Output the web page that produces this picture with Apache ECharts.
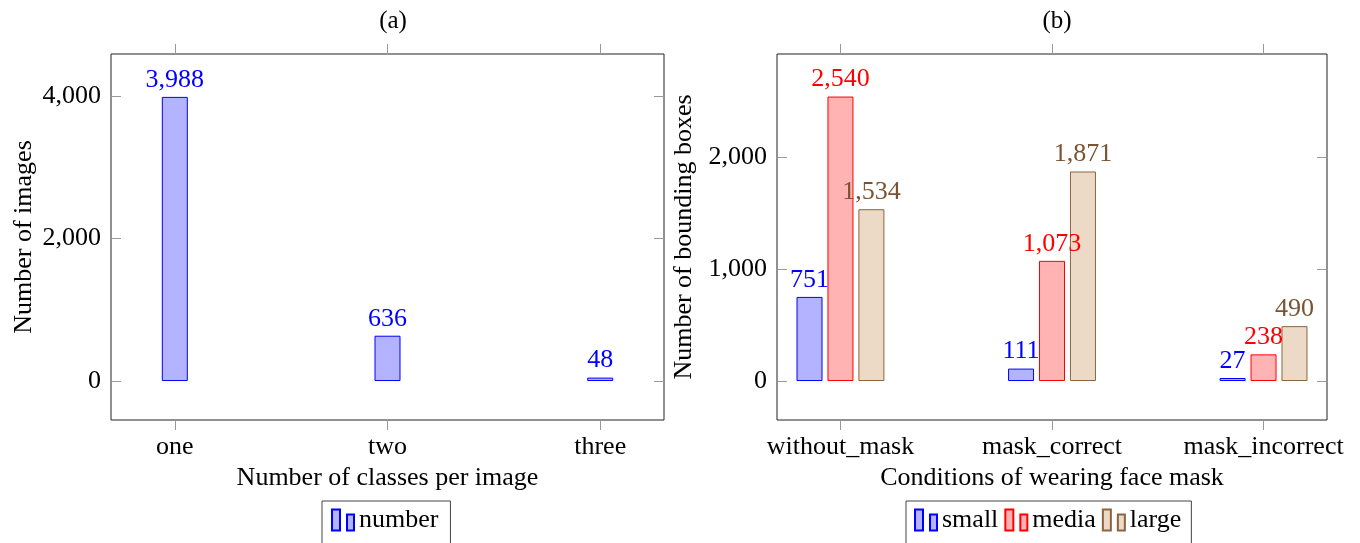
<!DOCTYPE html>
<html>
<head>
<meta charset="utf-8">
<script src="https://cdn.jsdelivr.net/npm/echarts@6/dist/echarts.min.js"></script>
<style>html,body{margin:0;padding:0;background:#fff}#c{width:1360px;height:543px}</style>
</head>
<body>
<div id="c"></div>
<script>
// ---- data ----
var catsA = ['one', 'two', 'three'];
var numberA = [3988, 636, 48];
var catsB = ['without_mask', 'mask_correct', 'mask_incorrect'];
var smallB = [751, 111, 27];
var mediaB = [2540, 1073, 238];
var largeB = [1534, 1871, 490];
var yTicksA = [0, 2000, 4000];
var yTicksB = [0, 1000, 2000];
var xTicks = [0, 1, 2];

var FONT = 'Liberation Serif';
var FS = 26;
var icon = 'path://M0,0H8V21H0Z M15,5H22V21H15Z';
function fmt(v){ return Number(v).toLocaleString('en-US'); }
function pts(arr){ return arr.map(function(v,i){ return [i, v]; }); }

var chart = echarts.init(document.getElementById('c'), null, {renderer:'canvas'});

function xAxisMain(grid, cats, name){
  return {
    type:'value', gridIndex:grid, min:-0.3, max:2.3, position:'bottom',
    name:name, nameLocation:'middle', nameGap:44,
    nameTextStyle:{fontFamily:FONT, fontSize:FS, color:'#000'},
    axisLine:{show:false, onZero:false}, splitLine:{show:false},
    axisTick:{show:true, inside:false, length:10, customValues:xTicks, lineStyle:{color:'#999'}},
    axisLabel:{customValues:xTicks, margin:14, fontFamily:FONT, fontSize:FS, color:'#000',
      formatter:function(v){ return cats[Math.round(v)]; }}
  };
}
function xAxisTop(grid){
  return {
    type:'value', gridIndex:grid, min:-0.3, max:2.3, position:'top',
    axisLine:{show:false, onZero:false}, splitLine:{show:false},
    axisTick:{show:true, inside:false, length:10, customValues:xTicks, lineStyle:{color:'#999'}},
    axisLabel:{show:false}
  };
}
function yAxisMain(grid, min, max, ticks, name, gap){
  return {
    type:'value', gridIndex:grid, min:min, max:max, position:'left',
    name:name, nameLocation:'middle', nameGap:gap,
    nameTextStyle:{fontFamily:FONT, fontSize:FS, color:'#000'},
    axisLine:{show:false, onZero:false}, splitLine:{show:false},
    axisTick:{show:true, inside:true, length:10, customValues:ticks, lineStyle:{color:'#999'}},
    axisLabel:{customValues:ticks, margin:10, fontFamily:FONT, fontSize:FS, color:'#000',
      formatter:function(v){ return fmt(v); }}
  };
}
function yAxisRight(grid, min, max, ticks){
  return {
    type:'value', gridIndex:grid, min:min, max:max, position:'right',
    axisLine:{show:false, onZero:false}, splitLine:{show:false},
    axisTick:{show:true, inside:true, length:10, customValues:ticks, lineStyle:{color:'#999'}},
    axisLabel:{show:false}
  };
}
function barSeries(name, data, xi, yi, fill, stroke, txt){
  return {
    type:'bar', name:name, xAxisIndex:xi, yAxisIndex:yi, data:pts(data),
    barWidth:26, barGap:'19%',
    itemStyle:{color:fill, borderColor:stroke, borderWidth:1},
    label:{show:true, position:'top', distance:4, fontFamily:FONT, fontSize:FS, color:txt,
      formatter:function(p){ return fmt(p.value[1]); }},
    emphasis:{disabled:true}
  };
}

var option = {
  animation:false,
  backgroundColor:'#fff',
  title:[
    {text:'(a)', left:388, top:4, textAlign:'center', textStyle:{fontFamily:FONT, fontSize:25, fontWeight:'normal', color:'#000'}},
    {text:'(b)', left:1052, top:4, textAlign:'center', textStyle:{fontFamily:FONT, fontSize:25, fontWeight:'normal', color:'#000'}}
  ],
  grid:[
    {left:111, top:54, width:553, height:366, show:true, borderColor:'#222', borderWidth:1, backgroundColor:'transparent'},
    {left:777, top:54, width:550, height:366, show:true, borderColor:'#222', borderWidth:1, backgroundColor:'transparent'}
  ],
  xAxis:[
    xAxisMain(0, catsA, 'Number of classes per image'),
    xAxisMain(1, catsB, 'Conditions of wearing face mask'),
    xAxisTop(0), xAxisTop(1)
  ],
  yAxis:[
    yAxisMain(0, -547, 4590, yTicksA, 'Number of images', 74),
    yAxisMain(1, -348, 2920, yTicksB, 'Number of bounding boxes', 80),
    yAxisRight(0, -547, 4590, yTicksA), yAxisRight(1, -348, 2920, yTicksB)
  ],
  legend:[
    {data:['number'], left:322, top:501, orient:'horizontal', itemWidth:22, itemHeight:21, icon:icon,
     borderColor:'#444', borderWidth:1, padding:[6,12,30,9], itemGap:6,
     textStyle:{fontFamily:FONT, fontSize:FS, color:'#000'}},
    {data:['small','media','large'], left:906, top:501, orient:'horizontal', itemWidth:22, itemHeight:21, icon:icon,
     borderColor:'#444', borderWidth:1, padding:[6,10,30,8], itemGap:6,
     textStyle:{fontFamily:FONT, fontSize:FS, color:'#000'}}
  ],
  series:[
    barSeries('number', numberA, 0, 0, '#B3B3FF', '#0000FF', '#0000FF'),
    barSeries('small', smallB, 1, 1, '#B3B3FF', '#0000FF', '#0000FF'),
    barSeries('media', mediaB, 1, 1, '#FFB3B3', '#FF0000', '#FF0000'),
    barSeries('large', largeB, 1, 1, '#ECD9C6', '#8B6440', '#7A5430')
  ]
};
chart.setOption(option);
</script>
</body>
</html>
